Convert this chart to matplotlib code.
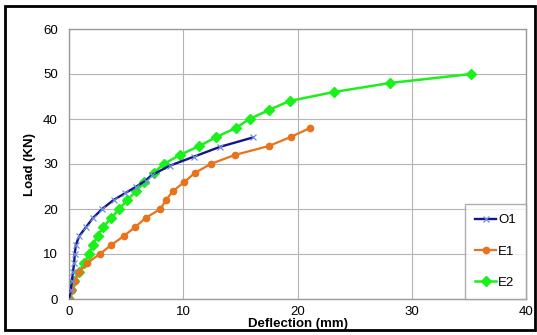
import matplotlib
matplotlib.use("Agg")
import matplotlib.pyplot as plt
from matplotlib.patches import Rectangle

plt.rcParams['font.family'] = ['Liberation Sans', 'DejaVu Sans']

# load-deflection readings, load in kN, deflection in mm
o1_defl = [0, 0.15, 0.25, 0.35, 0.45, 0.5, 0.6, 0.9, 1.5, 2.1, 2.9, 3.9, 4.9, 5.9, 6.7, 7.3, 8.8, 10.9, 13.2, 16.1]
o1_load = [0, 2, 4, 6, 8, 10, 12, 14, 16, 18, 20, 22, 23.5, 25, 26.3, 27.6, 29.6, 31.6, 33.8, 35.9]

e1_defl = [0, 0.3, 0.5, 0.9, 1.6, 2.7, 3.7, 4.8, 5.8, 6.7, 8.0, 8.5, 9.1, 10.1, 11.0, 12.4, 14.5, 17.5, 19.4, 21.1]
e1_load = [0, 2, 4, 6, 8, 10, 12, 14, 16, 18, 20, 22, 24, 26, 28, 30, 32, 34, 36, 38]

e2_defl = [0, 0.15, 0.45, 0.85, 1.35, 1.75, 2.1, 2.5, 3.0, 3.7, 4.4, 5.1, 5.9, 6.6, 7.4, 8.3,
           9.7, 11.4, 12.9, 14.6, 15.8, 17.5, 19.3, 23.2, 28.1, 35.2]
e2_load = [0, 2, 4, 6, 8, 10, 12, 14, 16, 18, 20, 22, 24, 26, 28, 30,
           32, 34, 36, 38, 40, 42, 44, 46, 48, 50]

x_ticks = [0, 10, 20, 30, 40]
y_ticks = [0, 10, 20, 30, 40, 50, 60]

fig = plt.figure(figsize=(5.37, 3.35), dpi=100)
ax = fig.add_axes([69 / 537, 36 / 335, 457 / 537, 270 / 335])

ax.plot(o1_defl, o1_load, color='#14148c', lw=1.7, marker='x', ms=4,
        mec='#6f8fd8', mew=0.9, label='O1', zorder=4)
ax.plot(e1_defl, e1_load, color='#e8731a', lw=1.6, marker='o', ms=4.5,
        mec='#e8731a', label='E1', zorder=3)
ax.plot(e2_defl, e2_load, color='#1af01a', lw=1.8, marker='D', ms=5,
        mec='#1af01a', label='E2', zorder=2)

ax.set_xlim(0, 40)
ax.set_ylim(0, 60)
ax.set_xticks(x_ticks)
ax.set_yticks(y_ticks)
ax.tick_params(axis='y', length=0, labelsize=9.5, pad=8)
ax.tick_params(axis='x', length=0, labelsize=9.5, pad=5)
ax.grid(True, color='#b4b4b4', lw=0.8)
ax.set_axisbelow(True)
for s in ax.spines.values():
    s.set_color('#9a9a9a')
    s.set_linewidth(1.0)

ax.set_xlabel('Deflection (mm)', fontsize=9.5, fontweight='bold', labelpad=0)
ax.set_ylabel('Load (KN)', fontsize=9.5, fontweight='bold', labelpad=5)

leg = ax.legend(loc='lower right', bbox_to_anchor=(1.0, 0.0), fontsize=9.5,
                frameon=True, fancybox=False, borderaxespad=0,
                labelspacing=1.45, handlelength=1.6, handletextpad=0.15,
                borderpad=0.75)
leg.get_frame().set_edgecolor('#9a9a9a')
leg.get_frame().set_linewidth(1.0)

# black frame round the whole chart
fig.patches.append(Rectangle((5 / 537, 5 / 335), 530 / 537, 324 / 335,
                             transform=fig.transFigure, fill=False,
                             edgecolor='black', lw=2))

fig.savefig('out.png', dpi=100)
